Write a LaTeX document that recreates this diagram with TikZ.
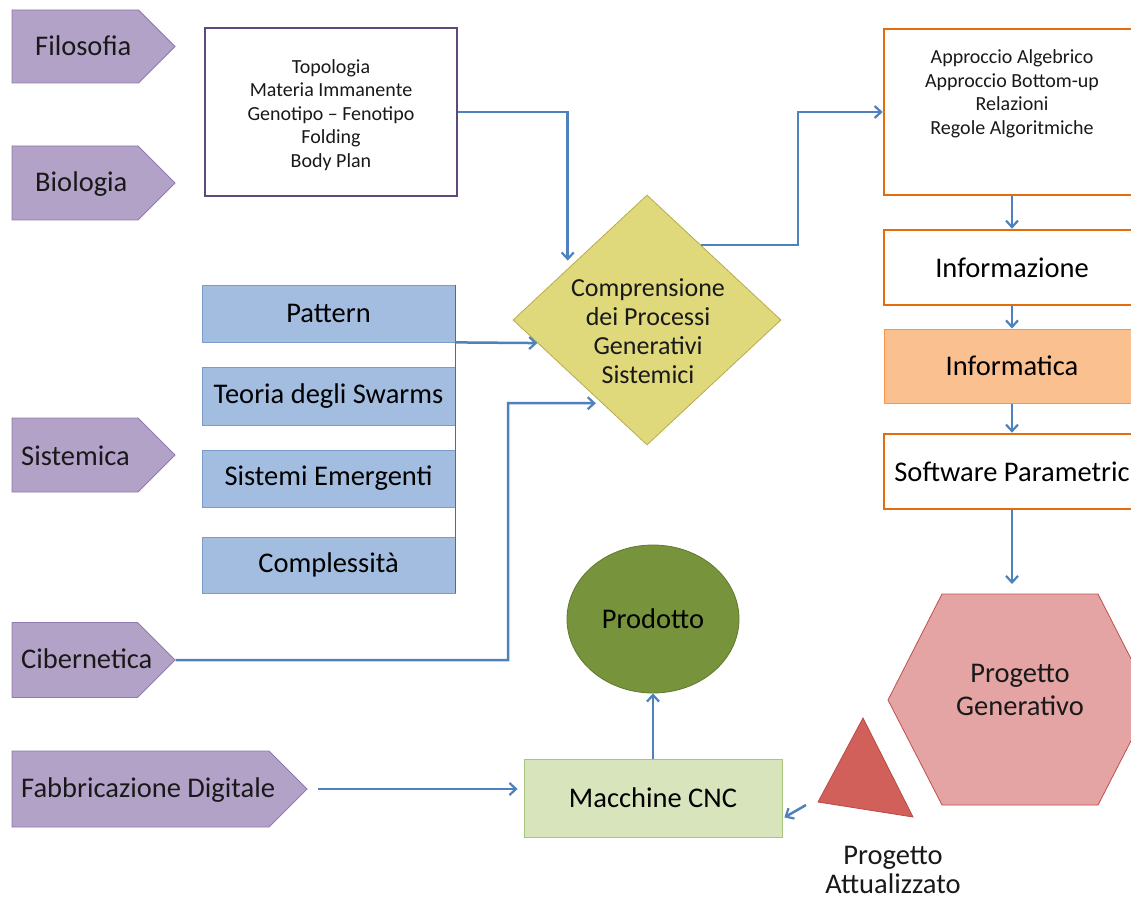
\documentclass[tikz,border=0pt]{standalone}
\usepackage{fontspec}
\setmainfont{Carlito}
\usetikzlibrary{shapes.symbols,shapes.geometric,arrows.meta,calc}
\definecolor{purpfill}{HTML}{B3A2C7}
\definecolor{purpdraw}{HTML}{8E7AAE}
\definecolor{topoline}{HTML}{5F497A}
\definecolor{bluefill}{HTML}{A2BDDF}
\definecolor{bluedraw}{HTML}{7B9CC8}
\definecolor{conncol}{HTML}{4F81BD}
\definecolor{diafill}{HTML}{DFD97C}
\definecolor{diadraw}{HTML}{B5AD4B}
\definecolor{orline}{HTML}{E46C0A}
\definecolor{orfill}{HTML}{FAC090}
\definecolor{ordraw}{HTML}{F79646}
\definecolor{greenfill}{HTML}{77933C}
\definecolor{greendraw}{HTML}{5E7A2B}
\definecolor{cncfill}{HTML}{D7E4BC}
\definecolor{cncdraw}{HTML}{A9C47F}
\definecolor{hexfill}{HTML}{E3A4A3}
\definecolor{hexdraw}{HTML}{C0504D}
\definecolor{trifill}{HTML}{D1605B}
\definecolor{tridraw}{HTML}{B84A45}
\begin{document}
\begin{tikzpicture}[x=1pt,y=-1pt,
  bigtxt/.style={font=\fontsize{28.5}{33}\selectfont},
  midtxt/.style={font=\fontsize{26}{29}\selectfont},
  smalltxt/.style={font=\fontsize{20}{23.5}\selectfont},
  sig/.style={shape=signal, signal to=east, signal pointer angle=90, fill=purpfill, draw=purpdraw, line width=0.8pt, inner sep=0pt},
  lab/.style={inner sep=0pt, text=black!90},
  bluebox/.style={rectangle, fill=bluefill, draw=bluedraw, line width=0.8pt, minimum width=253pt, inner sep=0pt, bigtxt},
  orbox/.style={rectangle, draw=orline, line width=2.6pt, fill=white, minimum width=256pt, inner sep=0pt},
  conn/.style={draw=conncol, line width=2.5pt, -{Straight Barb[length=6.5pt,width=12pt,line width=2.2pt]}}
]
\useasboundingbox (0,0) rectangle (1131,901);
\clip (0,0) rectangle (1131,901);
\fill[white] (0,0) rectangle (1131,901);

% purple pentagons (signal centre sits half a pointer left of the middle)
\node[sig, minimum width=163pt, minimum height=73pt] (filo) at (75.25,46.5) {};
\node[lab, bigtxt, anchor=mid west] (filoT) at (35,53) {Filosofia};
\node[sig, minimum width=163pt, minimum height=74pt] (bio) at (75,183) {};
\node[lab, bigtxt, anchor=mid west] (bioT) at (35,189) {Biologia};
\node[sig, minimum width=163pt, minimum height=74pt] (sis) at (75,455) {};
\node[lab, bigtxt, anchor=mid west] (sisT) at (21,463) {Sistemica};
\node[sig, minimum width=163pt, minimum height=75pt] (cib) at (74.75,660) {};
\node[lab, bigtxt, anchor=mid west] (cibT) at (21,666) {Cibernetica};
\node[sig, minimum width=295pt, minimum height=76pt] (fab) at (140.5,789) {};
\node[lab, bigtxt, anchor=mid west] (fabT) at (21,795) {Fabbricazione Digitale};

% Topologia box
\node[rectangle, draw=topoline, line width=2.4pt, fill=white, minimum width=252pt, minimum height=168pt, inner sep=0pt] (topo) at (331,112) {};
\node[lab, smalltxt, align=center] (topoT) at (331,115) {Topologia\\Materia Immanente\\Genotipo -- Fenotipo\\Folding\\Body Plan};

% blue boxes
\node[bluebox, minimum height=57pt] (pat) at (328.5,313.5) {Pattern};
\node[bluebox, minimum height=58pt] (teo) at (328.5,396) {Teoria degli Swarms};
\node[bluebox, minimum height=57pt] (sem) at (328.5,478.5) {Sistemi Emergenti};
\node[bluebox, minimum height=56pt] (com) at (328.5,565) {Complessità};
\draw[draw=conncol!85!black, line width=1.6pt] (pat.north east) -- (com.south east);

% diamond
\node[diamond, fill=diafill, draw=diadraw, line width=0.8pt, minimum width=268pt, minimum height=250pt, inner sep=0pt] (dia) at (647,320) {};
\node[lab, midtxt, align=center] (diaT) at (648,331) {Comprensione\\dei Processi\\Generativi\\Sistemici};

% orange column
\node[orbox, minimum height=166pt] (apt) at (1012,112) {};
\node[lab, smalltxt, align=center] (aptT) at (1012,94) {Approccio Algebrico\\Approccio Bottom-up\\Relazioni\\Regole Algoritmiche};
\node[orbox, minimum height=75pt, bigtxt] (info) at (1012,267.5) {Informazione};
\node[rectangle, fill=orfill, draw=ordraw, line width=1pt, minimum width=256pt, minimum height=74pt, inner sep=0pt, bigtxt] (infm) at (1012,366) {Informatica};
\node[orbox, minimum height=75pt, bigtxt] (soft) at (1012,471.5) {Software Parametric};

% hexagon
\filldraw[fill=hexfill, draw=hexdraw, line width=0.8pt] (888,700) -- (942,594) -- (1098,594) -- (1152,700) -- (1098,805) -- (942,805) -- cycle;
\coordinate (hexTop) at (1012,594);
\node[lab, bigtxt, align=center] (gen) at (1020,690) {Progetto\\Generativo};

% triangle
\filldraw[fill=trifill, draw=tridraw, line width=0.8pt] (863,718) -- (818,802) -- (913,817) -- cycle;
\coordinate (triA) at (806,805);
\node[lab, bigtxt, align=center, font=\fontsize{28.5}{29.5}\selectfont] (att) at (893,870) {Progetto\\Attualizzato};

% CNC and product
\node[rectangle, fill=cncfill, draw=cncdraw, line width=0.8pt, minimum width=258pt, minimum height=78pt, inner sep=0pt, bigtxt] (cnc) at (653,798) {Macchine CNC};
\node[ellipse, fill=greenfill, draw=greendraw, line width=0.8pt, minimum width=172pt, minimum height=148pt, inner sep=0pt, bigtxt] (prod) at (653,619) {Prodotto};

% connectors
\draw[conn, shorten >=8pt] (topo.east) -| ($(dia.west)!0.41!(dia.north)$);
\draw[conn] (pat.south east) -- ($(dia.west)!0.184!(dia.south)$);
\coordinate (cbend) at (508,403);
\draw[conn, shorten >=6pt] (cib.east) -| (cbend) -- ($(dia.west)!0.664!(dia.south)$);
\draw[conn] ($(dia.north)!0.4!(dia.east)$) -- ++(97,0) |- (apt.west);
\draw[conn] (apt.south) -- (info.north);
\draw[conn] (info.south) -- (infm.north);
\draw[conn] (infm.south) -- (soft.north);
\draw[conn, shorten >=10pt] (soft.south) -- (hexTop);
\draw[conn, shorten <=10pt, shorten >=6pt] (fab.east) -- (fab.east -| cnc.west);
\draw[conn] (cnc.north) -- (prod.south);
\draw[conn] (triA) -- ($(cnc.south east)+(2,-20)$);
\end{tikzpicture}
\end{document}
